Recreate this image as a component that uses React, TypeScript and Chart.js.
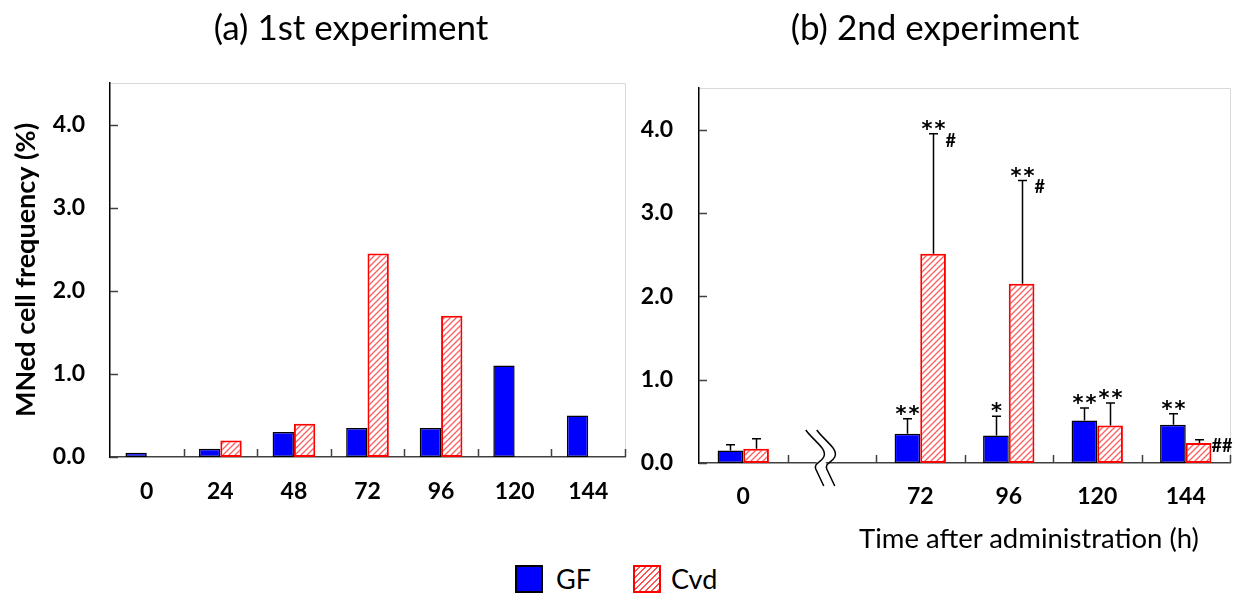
import React, { useEffect, useRef } from 'react';
import { Chart, registerables } from 'chart.js';
Chart.register(...registerables);

const FONT = 'Lato, "Open Sans", sans-serif';
const STAR_FONT = '"DejaVu Sans", Lato, sans-serif';

// (a) 1st experiment
const categoriesA = ['0', '24', '48', '72', '96', '120', '144'];
const gfA = [0.05, 0.1, 0.3, 0.35, 0.35, 1.1, 0.5];
const cvdA = [null, 0.2, 0.4, 2.45, 1.7, null, null];

// (b) 2nd experiment (index 1 = axis break)
const categoriesB = ['0', '', '72', '96', '120', '144'];
const gfB = [0.15, null, 0.35, 0.33, 0.51, 0.46];
const cvdB = [0.17, null, 2.51, 2.15, 0.45, 0.24];
const gfErrB = [0.07, null, 0.18, 0.23, 0.15, 0.13];
const cvdErrB = [0.12, null, 1.44, 1.24, 0.27, 0.04];
const gfSigB = ['', '', '**', '*', '**', '**'];
const cvdSigB = ['', '', '**', '**', '**', ''];
const cvdHashB = ['', '', '#', '#', '', '##'];

const yTickValues = [0, 1, 2, 3, 4];
const yMin = 0;
const yMax = 4.5;

function makeHatch(): CanvasPattern | string {
  const c = document.createElement('canvas');
  c.width = 6;
  c.height = 6;
  const g = c.getContext('2d');
  if (!g) return '#ffcccc';
  g.fillStyle = '#ffffff';
  g.fillRect(0, 0, 6, 6);
  g.strokeStyle = 'rgba(255,40,40,0.75)';
  g.lineWidth = 1.3;
  g.beginPath();
  g.moveTo(-1, 7); g.lineTo(7, -1);
  g.moveTo(-4, 4); g.lineTo(4, -4);
  g.moveTo(2, 10); g.lineTo(10, 2);
  g.stroke();
  const p = g.createPattern(c, 'repeat');
  return p || '#ffcccc';
}

const frameTicksPlugin = {
  id: 'frameTicks',
  beforeDraw(chart: any) {
    const { ctx, chartArea } = chart;
    ctx.save();
    ctx.strokeStyle = '#d9d9d9';
    ctx.lineWidth = 1;
    ctx.beginPath();
    ctx.moveTo(chartArea.left, chartArea.top + 0.5);
    ctx.lineTo(chartArea.right + 0.5, chartArea.top + 0.5);
    ctx.lineTo(chartArea.right + 0.5, chartArea.bottom);
    ctx.stroke();
    ctx.restore();
  },
  afterDraw(chart: any) {
    const { ctx, chartArea, scales } = chart;
    const y = scales.y;
    const x = scales.x;
    ctx.save();
    ctx.strokeStyle = '#404040';
    ctx.lineWidth = 1.5;
    ctx.beginPath();
    yTickValues.forEach((v) => {
      const py = Math.round(y.getPixelForValue(v)) + 0.5;
      ctx.moveTo(chartArea.left, py);
      ctx.lineTo(chartArea.left + 8, py);
    });
    const n = x.getLabels().length;
    for (let i = 0; i < n; i++) {
      const px = i < n - 1 ? (x.getPixelForValue(i) + x.getPixelForValue(i + 1)) / 2 : chartArea.right;
      ctx.moveTo(Math.round(px) + 0.5, chartArea.bottom);
      ctx.lineTo(Math.round(px) + 0.5, chartArea.bottom - 8);
    }
    ctx.stroke();
    ctx.restore();
  },
};

const errorAnnotPlugin = {
  id: 'errorAnnot',
  afterDatasetsDraw(chart: any) {
    const { ctx, scales } = chart;
    const y = scales.y;
    const sets = [
      { meta: chart.getDatasetMeta(0), vals: gfB, errs: gfErrB, sig: gfSigB, hash: null as any },
      { meta: chart.getDatasetMeta(1), vals: cvdB, errs: cvdErrB, sig: cvdSigB, hash: cvdHashB },
    ];
    ctx.save();
    sets.forEach((s) => {
      s.vals.forEach((v, i) => {
        if (v == null || s.errs[i] == null) return;
        const bar = s.meta.data[i];
        const cx = Math.round(bar.x) + 0.5;
        const yBar = y.getPixelForValue(v);
        const yTop = y.getPixelForValue(v + (s.errs[i] as number));
        ctx.strokeStyle = '#000';
        ctx.lineWidth = 1.5;
        ctx.beginPath();
        ctx.moveTo(cx, yBar);
        ctx.lineTo(cx, yTop);
        ctx.moveTo(cx - 4.5, yTop);
        ctx.lineTo(cx + 4.5, yTop);
        ctx.stroke();
        ctx.fillStyle = '#000';
        if (s.sig[i]) {
          ctx.font = `bold 21px ${STAR_FONT}`;
          ctx.textAlign = 'center';
          ctx.textBaseline = 'alphabetic';
          (ctx as any).letterSpacing = '2px';
          ctx.fillText(s.sig[i], cx + 1, yTop + 2);
          (ctx as any).letterSpacing = '0px';
        }
        if (s.hash && s.hash[i]) {
          ctx.font = `bold 18px ${FONT}`;
          ctx.textAlign = 'left';
          ctx.textBaseline = 'middle';
          ctx.fillText(s.hash[i], cx + 12, yTop + 7);
        }
      });
    });
    ctx.restore();
  },
};

const breakPlugin = {
  id: 'axisBreak',
  afterDraw(chart: any) {
    const { ctx, chartArea, scales } = chart;
    const bx = scales.x.getPixelForValue(1) - 18;
    const by = chartArea.bottom;
    ctx.save();
    ctx.fillStyle = '#fff';
    ctx.fillRect(bx + 3, by - 3, 9, 6);
    ctx.strokeStyle = '#000';
    ctx.lineWidth = 1.5;
    [0, 11].forEach((dx) => {
      const ox = bx + dx;
      ctx.beginPath();
      ctx.moveTo(ox - 8, by - 33);
      ctx.bezierCurveTo(ox + 0, by - 22, ox + 14, by - 14, ox + 10, by - 6);
      ctx.bezierCurveTo(ox + 7, by, ox + 0, by, ox + 2, by + 6);
      ctx.lineTo(ox + 10, by + 23);
      ctx.stroke();
    });
    ctx.restore();
  },
};

function baseOptions(yWidth: number, xHeight: number, padTop: number, padRight: number, yTitle: boolean, yPad: number, xPad: number): any {
  return {
    responsive: false,
    animation: false,
    devicePixelRatio: 1,
    layout: { padding: { left: 0, right: padRight, top: padTop, bottom: 0 } },
    plugins: { legend: { display: false }, tooltip: { enabled: false }, title: { display: false } },
    datasets: { bar: { categoryPercentage: 0.58, barPercentage: 1.0 } },
    scales: {
      x: {
        type: 'category',
        grid: { display: false, drawTicks: false },
        border: { display: true, color: '#404040', width: 1.5 },
        ticks: { color: '#000', font: { family: FONT, size: 23, weight: 'bold' }, padding: xPad, maxRotation: 0, autoSkip: false },
        afterFit: (s: any) => { s.height = xHeight; },
      },
      y: {
        min: yMin,
        max: yMax,
        grid: { display: false, drawTicks: false },
        border: { display: true, color: '#000', width: 1.5 },
        ticks: {
          stepSize: 1,
          includeBounds: false,
          color: '#000',
          padding: yPad,
          font: { family: FONT, size: 23, weight: 'bold' },
          callback: (v: number) => (yTickValues.includes(v) ? v.toFixed(1) : ''),
        },
        title: yTitle
          ? { display: true, text: 'MNed cell frequency (%)', color: '#000', font: { family: FONT, size: 27, weight: 'bold' }, padding: { top: 10, bottom: 0 } }
          : { display: false },
        afterFit: (s: any) => { s.width = yWidth; },
      },
    },
  };
}

export default function App() {
  const refA = useRef<HTMLCanvasElement>(null);
  const refB = useRef<HTMLCanvasElement>(null);

  useEffect(() => {
    const hatch = makeHatch();
    const chartA = new Chart(refA.current as HTMLCanvasElement, {
      type: 'bar',
      data: {
        labels: categoriesA,
        datasets: [
          { label: 'GF', data: gfA, backgroundColor: '#0000ff', borderColor: '#000', borderWidth: 1.5, borderSkipped: false },
          { label: 'Cvd', data: cvdA as any, backgroundColor: hatch as any, borderColor: '#ff0000', borderWidth: 2, borderSkipped: false },
        ],
      },
      options: baseOptions(110, 63, 83, 15, true, 25, 21),
      plugins: [frameTicksPlugin],
    });
    const chartB = new Chart(refB.current as HTMLCanvasElement, {
      type: 'bar',
      data: {
        labels: categoriesB,
        datasets: [
          { label: 'GF', data: gfB as any, backgroundColor: '#0000ff', borderColor: '#000', borderWidth: 1.5, borderSkipped: false },
          { label: 'Cvd', data: cvdB as any, backgroundColor: hatch as any, borderColor: '#ff0000', borderWidth: 2, borderSkipped: false },
        ],
      },
      options: baseOptions(69, 57, 88, 7, false, 26, 20),
      plugins: [frameTicksPlugin, errorAnnotPlugin, breakPlugin],
    });
    return () => {
      chartA.destroy();
      chartB.destroy();
    };
  }, []);

  const textBase: React.CSSProperties = { position: 'absolute', fontFamily: FONT, color: '#000', whiteSpace: 'nowrap' };

  return (
    <div style={{ position: 'absolute', left: 0, top: 0, width: 1237, height: 595, background: '#fff', overflow: 'hidden' }}>
      <canvas ref={refA} width={640} height={520} style={{ position: 'absolute', left: 0, top: 0, width: 640, height: 520 }} />
      <canvas ref={refB} width={607} height={520} style={{ position: 'absolute', left: 630, top: 0, width: 607, height: 520 }} />
      <div style={{ ...textBase, left: 151, width: 400, top: 4, height: 44, lineHeight: '44px', fontSize: 35, textAlign: 'center' }}>(a) 1st experiment</div>
      <div style={{ ...textBase, left: 735, width: 400, top: 4, height: 44, lineHeight: '44px', fontSize: 35, textAlign: 'center' }}>(b) 2nd experiment</div>
      <div style={{ ...textBase, left: 829, width: 400, top: 520, height: 36, lineHeight: '36px', fontSize: 27.5, textAlign: 'center' }}>Time after administration (h)</div>
      <div style={{ position: 'absolute', left: 515, top: 565, width: 28, height: 28, boxSizing: 'border-box', border: '2px solid #000', background: '#0000ff' }} />
      <div style={{ ...textBase, left: 556, top: 561, height: 36, lineHeight: '36px', fontSize: 27 }}>GF</div>
      <div style={{ position: 'absolute', left: 633, top: 565, width: 28, height: 28, boxSizing: 'border-box', border: '2px solid #ff0000', background: 'repeating-linear-gradient(135deg, #ffffff 0px, #ffffff 2.6px, #ff5050 2.6px, #ff5050 4.2px)' }} />
      <div style={{ ...textBase, left: 671, top: 561, height: 36, lineHeight: '36px', fontSize: 27 }}>Cvd</div>
    </div>
  );
}
